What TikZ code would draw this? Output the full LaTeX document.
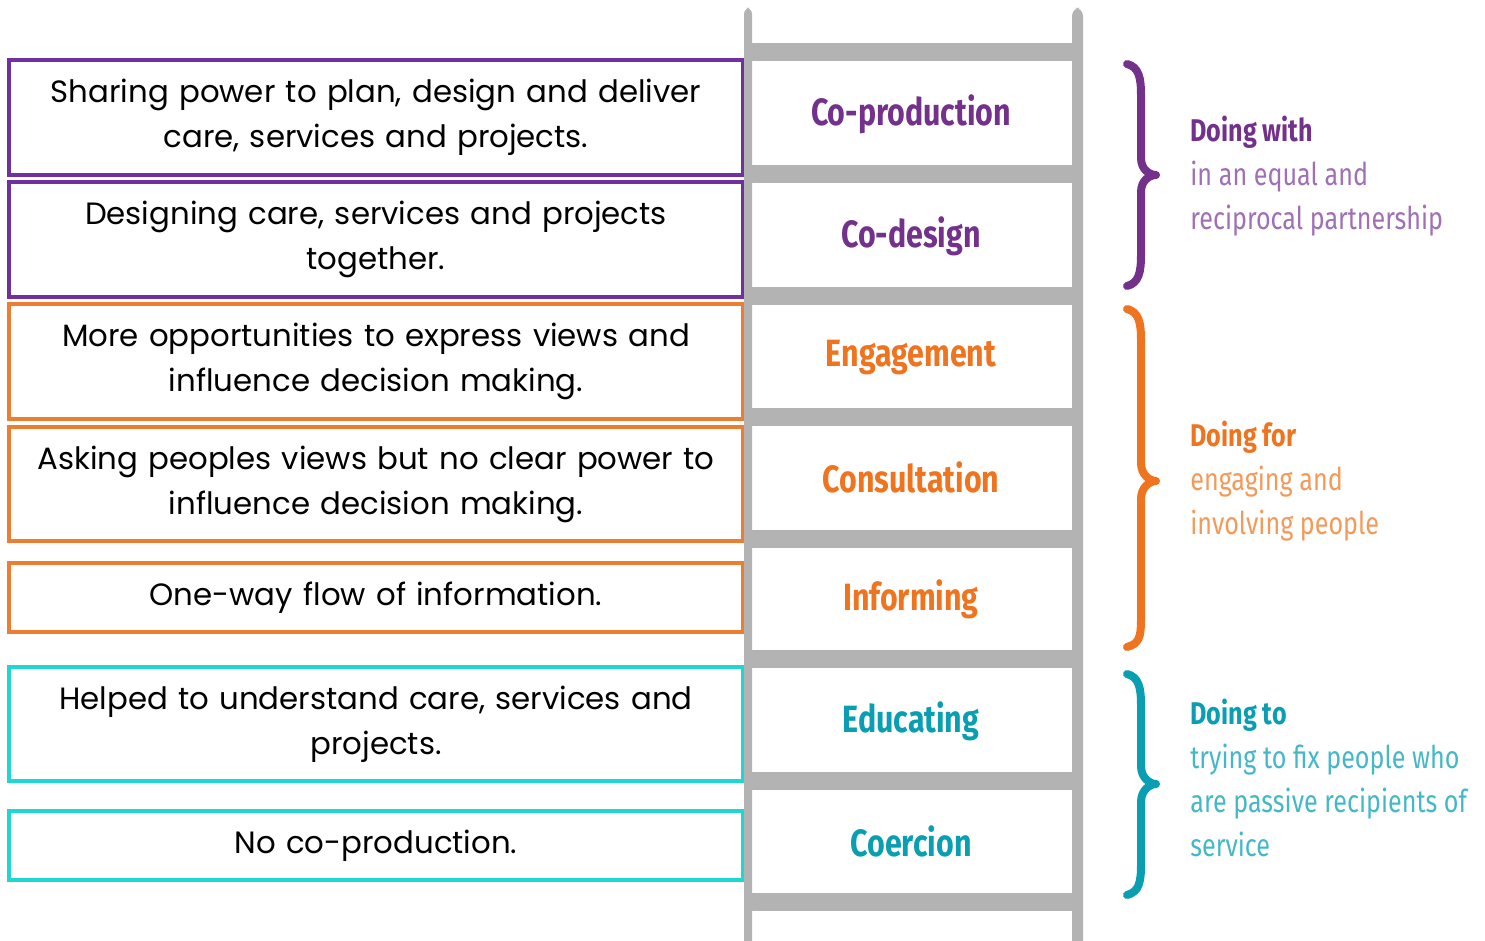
\documentclass[tikz,border=0pt]{standalone}
\usepackage{fontspec}
\newfontfamily\boxfont{Poppins}
\newfontfamily\dinfont[FakeStretch=0.8]{Fira Sans}
\definecolor{boxpurple}{HTML}{7030A0}
\definecolor{boxorange}{HTML}{ED7D31}
\definecolor{boxcyan}{HTML}{1ED6D4}
\definecolor{lpurple}{HTML}{74318C}
\definecolor{lorange}{HTML}{EE7420}
\definecolor{lteal}{HTML}{0A9EB3}
\definecolor{tpurple}{HTML}{A070B5}
\definecolor{torange}{HTML}{F29A5A}
\definecolor{tteal}{HTML}{45B8C8}
\definecolor{ladgray}{HTML}{B3B3B3}
\begin{document}
\begin{tikzpicture}[x=0.5pt,y=-0.5pt,
  lbox/.style={draw=#1, line width=1.6pt, minimum width=367pt, text width=365pt, align=center, inner sep=0pt,
     font=\boxfont\fontsize{15.4}{22.5}\selectfont},
  rung/.style={font=\dinfont\bfseries\fontsize{19}{20}\selectfont, inner sep=0pt},
  side/.style={anchor=north west, align=left, inner sep=0pt, font=\dinfont\fontsize{15.7}{22}\selectfont},
  brace/.style={draw=#1, line width=4pt, line cap=round, line join=round}]
\useasboundingbox (0,0) rectangle (1485,941);

% left boxes
\node[lbox=boxpurple, minimum height=57.5pt] (b1) at (376,117.5) {Sharing power to plan, design and deliver\\care, services and projects.};
\node[lbox=boxpurple, minimum height=57.5pt] (b2) at (376,239.5) {Designing care, services and projects\\together.};
\node[lbox=boxorange, minimum height=57.5pt] (b3) at (376,361.5) {More opportunities to express views and\\influence decision making.};
\node[lbox=boxorange, minimum height=57pt] (b4) at (376,484) {Asking peoples views but no clear power to\\influence decision making.};
\node[lbox=boxorange, minimum height=34.5pt] (b5) at (376,597.5) {One-way flow of information.};
\node[lbox=boxcyan, minimum height=57pt] (b6) at (376,724) {Helped to understand care, services and\\projects.};
\node[lbox=boxcyan, minimum height=34.5pt] (b7) at (376,845.5) {No co-production.};

% ladder
\fill[ladgray, rounded corners=3pt] (744,960) -- (744,8) -- (752,8) -- (752,960) -- cycle;
\fill[ladgray, rounded corners=4pt] (1072,960) -- (1072,8) -- (1083,8) -- (1083,960) -- cycle;
\foreach \y in {43,165,287,408,530,650,772,893}
  \fill[ladgray] (748,\y) rectangle (1078,\y+18);

\node[rung, text=lpurple] (r1) at (911,114) {Co-production};
\node[rung, text=lpurple] (r2) at (911,236) {Co-design};
\node[rung, text=lorange] (r3) at (911,358) {Engagement};
\node[rung, text=lorange] (r4) at (911,477) {Consultation};
\node[rung, text=lorange] (r5) at (911,599) {Informing};
\node[rung, text=lteal] (r6) at (911,721) {Educating};
\node[rung, text=lteal] (r7) at (911,841) {Coercion};

% braces
\draw[brace=lpurple] (1127,64) .. controls (1139,67) and (1141,78) .. (1141,95) -- (1141,158)
  .. controls (1141,170) and (1150,175) .. (1156,175) .. controls (1150,175) and (1141,180) .. (1141,192)
  -- (1141,255) .. controls (1141,272) and (1139,283) .. (1127,286);
\draw[brace=lorange] (1127,309) .. controls (1139,312) and (1141,323) .. (1141,340) -- (1141,463)
  .. controls (1141,475) and (1150,481) .. (1156,481) .. controls (1150,481) and (1141,487) .. (1141,499)
  -- (1141,620) .. controls (1141,637) and (1139,644) .. (1127,647);
\draw[brace=lteal] (1127,674) .. controls (1139,677) and (1141,688) .. (1141,705) -- (1141,766)
  .. controls (1141,778) and (1150,784) .. (1156,784) .. controls (1150,784) and (1141,790) .. (1141,802)
  -- (1141,865) .. controls (1141,882) and (1139,892) .. (1127,895);

% side texts
\node[side, text=tpurple] (s1) at (1190,116) {{\bfseries\color{lpurple}Doing with}\\in an equal and\\reciprocal partnership};
\node[side, text=torange] (s2) at (1190,421) {{\bfseries\color{lorange}Doing for}\\engaging and\\involving people};
\node[side, text=tteal] (s3) at (1190,699) {{\bfseries\color{lteal}Doing to}\\trying to fix people who\\are passive recipients of\\service};
\end{tikzpicture}
\end{document}
